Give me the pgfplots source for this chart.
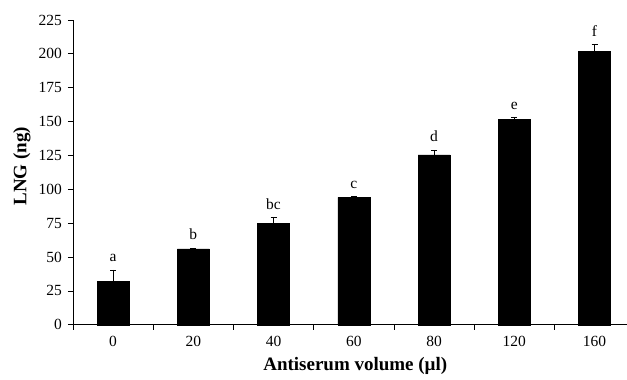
\documentclass[border=0pt]{standalone}
\usepackage{fontspec}
\setmainfont{Liberation Serif}
\usepackage{pgfplots}
\pgfplotsset{compat=1.18}
\begin{document}
\fontsize{15}{18}\selectfont
\begin{tikzpicture}
\begin{axis}[
  at={(0,0)}, anchor=south west,
  scale only axis, width=554pt, height=305pt,
  axis lines=left,
  axis line style={-, line width=0.8pt},
  xmin=-0.5, xmax=6.4,
  ymin=0, ymax=225,
  ytick={0,25,...,225},
  xtick={0,1,2,3,4,5,6},
  xticklabels={0,20,40,60,80,120,160},
  major x tick style={draw=none},
  minor xtick={-0.5,0.5,1.5,2.5,3.5,4.5,5.5},
  minor tick length=5pt,
  major tick length=5pt,
  tick align=outside,
  tick style={black, line width=0.8pt},
  /pgf/number format/assume math mode=true,
  tick label style={font=\fontsize{15.5}{18}\selectfont},
  yticklabel style={xshift=-1pt},
  xticklabel style={yshift=-1pt},
  xlabel={\textbf{Antiserum volume (µl)}},
  ylabel={\textbf{LNG (ng)}},
  label style={font=\fontsize{19}{22}\selectfont},
  xlabel style={at={(axis description cs:0.51,0)}, anchor=center, yshift=-41pt},
  ylabel style={at={(axis description cs:0,0.52)}, anchor=center, yshift=51pt},
  clip=false,
]
\addplot[ybar, bar width=32pt, fill=black, draw=black,
  error bars/.cd, y dir=plus, y explicit,
  error bar style={line width=0.8pt},
  error mark options={rotate=90, mark size=3pt, line width=0.8pt}]
  table[x=x, y=y, y error=e] {
x y e
0 32 8.5
1 56 0.5
2 75 4
3 94 0.8
4 125.4 3.6
5 151.9 1
6 202 5
};
\addplot[only marks, mark=none, nodes near coords, point meta=explicit symbolic,
  nodes near coords style={anchor=south, font=\fontsize{15.5}{18}\selectfont, yshift=3pt}]
  table[x=x, y=y, meta=l] {
x y l
0 40.5 a
1 56.5 b
2 79 bc
3 94.8 c
4 129 d
5 152.9 e
6 207 f
};
\end{axis}
\path (-73pt,-50pt) rectangle (554pt,325pt);
\end{tikzpicture}
\end{document}
